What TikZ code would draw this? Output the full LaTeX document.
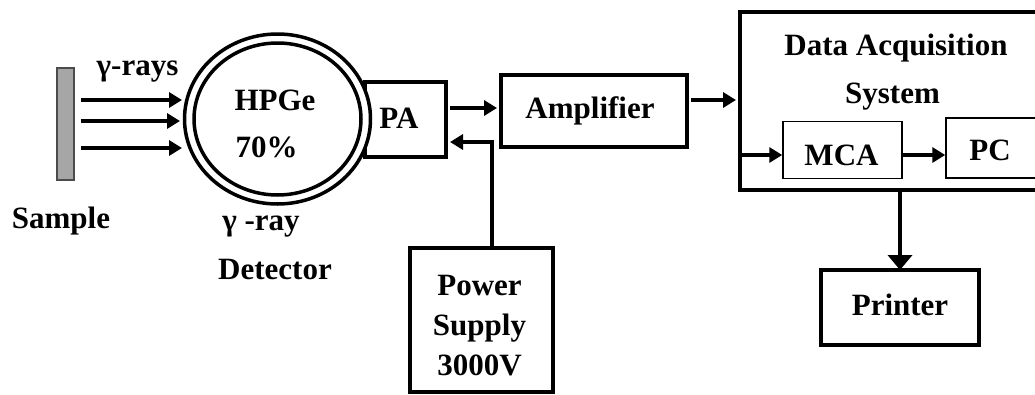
\documentclass[tikz,border=0pt]{standalone}
\usepackage{fontspec}
\setmainfont{Liberation Serif}
\usetikzlibrary{arrows.meta,shapes.geometric}
\begin{document}
\begin{tikzpicture}[x=1pt,y=-1pt,
  txt/.style={font=\fontsize{31}{38}\selectfont\bfseries, inner sep=0pt, anchor=base},
  thickbox/.style={draw, line width=4pt, fill=white, inner sep=0pt},
  thinbox/.style={draw, line width=1.5pt, fill=white, inner sep=0pt},
  arr/.style={line width=4pt, -{Triangle[length=13pt,width=15pt]}},
  bigarr/.style={line width=4pt, -{Triangle[length=15pt,width=24pt]}},
  ring/.style={draw, ellipse, line width=3.5pt, inner sep=0pt},
]
\useasboundingbox (0,0) rectangle (1035,394);

% sample
\node[draw=black!70, line width=1.3pt, fill=black!35, minimum width=17pt, minimum height=112pt, inner sep=0pt] (sample) at (65.5,124) {};

% PA box (behind detector)
\node[thickbox, minimum width=81pt, minimum height=75pt] (pa) at (405.5,119.5) {};

% detector
\node[ring, fill=white, minimum width=186pt, minimum height=170pt] (det) at (277.5,119) {};
\node[ring, minimum width=167pt, minimum height=152pt] (detin) at (277.5,119) {};

% other boxes
\node[thickbox, minimum width=186pt, minimum height=72pt] (amp) at (594,111) {};
\node[thickbox, minimum width=143pt, minimum height=144pt] (ps) at (481.5,320) {};
\node[thickbox, minimum width=330pt, minimum height=178pt] (das) at (905,101) {};
\node[thinbox, minimum width=119pt, minimum height=57pt] (mca) at (842.5,150) {};
\node[thinbox, minimum width=110pt, minimum height=60pt] (pc) at (1001,148) {};
\node[thickbox, minimum width=158pt, minimum height=75pt] (printer) at (900,307.5) {};

% texts
\node[txt] (tg) at (137.5,75) {γ-rays};
\node[txt] (tsample) at (61,228) {Sample};
\node[txt] (thp) at (275,110) {HPGe};
\node[txt] (t70) at (266.5,157) {70\%};
\node[txt] (tpa) at (399,128) {PA};
\node[txt] (tgr) at (261,230) {γ -ray};
\node[txt] (tdet) at (275,279) {Detector};
\node[txt] (tamp) at (590,118) {Amplifier};
\node[txt] (tps1) at (479.5,295) {Power};
\node[txt] (tps2) at (479.5,335) {Supply};
\node[txt] (tps3) at (479.5,375) {3000V};
\node[txt] (tdas1) at (896,55) {Data Acquisition};
\node[txt] (tdas2) at (892.5,103) {System};
\node[txt] (tmca) at (841.5,165) {MCA};
\node[txt] (tpc) at (990,160) {PC};
\node[txt] (tprn) at (900,315) {Printer};

% gamma rays
\coordinate (g1) at (182,100);
\coordinate (g2) at (180,121);
\coordinate (g3) at (182,148);
\draw[arr] ([xshift=6pt]sample.east |- g1) -- (g1);
\draw[arr] ([xshift=6pt]sample.east |- g2) -- (g2);
\draw[arr] ([xshift=6pt]sample.east |- g3) -- (g3);

% connectors
\draw[arr] ([xshift=2pt]pa.east |- 0,108) -- ([xshift=-2pt]amp.west |- 0,108);
\coordinate (fb) at (492,142);
\draw[arr] (ps.north -| fb) |- ([xshift=2pt]pa.east |- fb);
\draw[arr] ([xshift=2pt]amp.east |- 0,100) -- ([xshift=-2pt]das.west |- 0,100);
\draw[arr] (das.west |- 0,155) -- (mca.west |- 0,155);
\draw[arr] (mca.east |- 0,155) -- (pc.west |- 0,155);
\draw[bigarr] ([yshift=2pt]das.south -| printer.north) -- ([yshift=-2pt]printer.north);
\end{tikzpicture}
\end{document}
